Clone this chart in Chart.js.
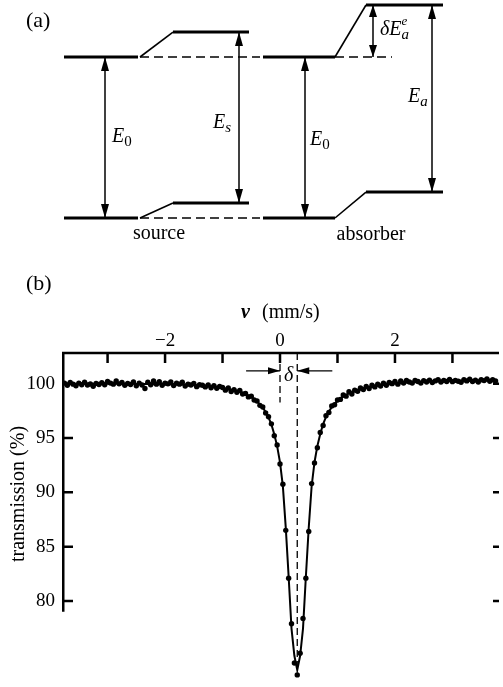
<!DOCTYPE html>
<html><head><meta charset="utf-8">
<script src="https://cdn.jsdelivr.net/npm/chart.js@4.4.1/dist/chart.umd.min.js"></script>
<style>
html,body{margin:0;padding:0;background:#fff;width:503px;height:687px;overflow:hidden}
#wa{position:absolute;left:0;top:0;width:503px;height:250px}
#wb{position:absolute;left:0;top:250px;width:503px;height:437px}
</style></head>
<body>
<div id="wa"><canvas id="ca"></canvas></div>
<div id="wb"><canvas id="cb"></canvas></div>
<script>
// ---------- (a) energy-level scheme (arbitrary energy units, E0 = 10) ----------
const groundEnergy = 0;
const transitionEnergy = 10;                 // E0
const sourceLevels = [0.93, 11.55];          // shifted source ground / excited
const absorberLevels = [1.61, 13.23];        // shifted absorber ground / excited
const sourceColumns = [64, 138, 173, 249];   // schematic x: unshifted from/to, shifted from/to
const absorberColumns = [263, 335, 366, 443];
const arrowColumns = [105, 239, 305, 373, 432]; // E0(src), Es, E0(abs), dE, Ea

// ---------- (b) Mossbauer spectrum ----------
const velocity = [
-3.75,-3.70,-3.65,-3.60,-3.55,-3.50,-3.45,-3.40,-3.35,-3.30,
-3.25,-3.20,-3.15,-3.10,-3.05,-3.00,-2.95,-2.90,-2.85,-2.80,
-2.75,-2.70,-2.65,-2.60,-2.55,-2.50,-2.45,-2.40,-2.35,-2.30,
-2.25,-2.20,-2.15,-2.10,-2.05,-2.00,-1.95,-1.90,-1.85,-1.80,
-1.75,-1.70,-1.65,-1.60,-1.55,-1.50,-1.45,-1.40,-1.35,-1.30,
-1.25,-1.20,-1.15,-1.10,-1.05,-1.00,-0.95,-0.90,-0.85,-0.80,
-0.75,-0.70,-0.65,-0.60,-0.55,-0.50,-0.45,-0.40,-0.35,-0.30,
-0.25,-0.20,-0.15,-0.10,-0.05,0.00,0.05,0.10,0.15,0.20,
0.25,0.30,0.35,0.40,0.45,0.50,0.55,0.60,0.65,0.70,
0.75,0.80,0.85,0.90,0.95,1.00,1.05,1.10,1.15,1.20,
1.25,1.30,1.35,1.40,1.45,1.50,1.55,1.60,1.65,1.70,
1.75,1.80,1.85,1.90,1.95,2.00,2.05,2.10,2.15,2.20,
2.25,2.30,2.35,2.40,2.45,2.50,2.55,2.60,2.65,2.70,
2.75,2.80,2.85,2.90,2.95,3.00,3.05,3.10,3.15,3.20,
3.25,3.30,3.35,3.40,3.45,3.50,3.55,3.60,3.65,3.70,
3.75];
const transmission = [
100.05,99.85,100.10,99.95,99.80,100.05,99.90,100.12,99.88,99.97,
99.75,100.02,99.92,100.08,99.90,100.20,100.05,99.95,100.25,99.98,
100.10,99.85,100.02,99.92,100.15,99.80,100.05,99.88,99.55,100.12,
99.90,100.25,99.95,100.18,99.85,100.05,99.98,100.15,99.82,100.05,
99.95,100.12,99.78,99.95,99.88,100.02,99.72,99.90,99.85,99.70,
99.88,99.62,99.80,99.58,99.75,99.65,99.40,99.60,99.28,99.45,
99.20,99.38,99.05,99.10,98.78,98.85,98.50,98.40,98.00,97.85,
97.30,96.95,96.30,95.20,94.35,92.60,90.75,86.50,82.10,77.90,
74.30,73.20,75.20,78.40,82.10,86.40,90.80,92.70,94.10,95.50,
96.15,97.05,97.35,97.95,98.05,98.50,98.55,98.95,98.85,99.25,
99.05,99.40,99.30,99.60,99.45,99.75,99.55,99.85,99.70,99.95,
99.78,100.05,99.85,100.10,100.00,100.20,99.95,100.25,100.05,100.30,
100.15,100.05,100.30,100.20,100.05,100.28,100.15,100.32,100.10,100.25,
100.35,100.15,100.30,100.20,100.38,100.18,100.30,100.22,100.12,100.35,
100.25,100.40,100.20,100.32,100.15,100.35,100.28,100.42,100.22,100.35,
100.25];
const fitCurve = [
100.01,100.01,100.00,100.00,100.00,100.00,100.00,100.00,100.00,100.00,
100.00,100.00,100.00,99.99,99.99,99.99,99.99,99.99,99.99,99.99,
99.98,99.98,99.98,99.98,99.98,99.97,99.97,99.97,99.96,99.96,
99.95,99.96,99.95,99.95,99.94,99.93,99.93,99.92,99.91,99.91,
99.90,99.89,99.88,99.87,99.85,99.84,99.82,99.82,99.80,99.78,
99.76,99.73,99.70,99.67,99.63,99.60,99.56,99.51,99.45,99.39,
99.32,99.24,99.14,99.04,98.91,98.76,98.58,98.36,98.09,97.79,
97.39,96.90,96.25,95.35,94.25,92.75,90.55,86.75,82.25,77.46,
74.96,73.66,74.96,77.46,82.26,86.76,90.56,92.77,94.27,95.37,
96.28,96.93,97.43,97.83,98.13,98.41,98.63,98.81,98.97,99.10,
99.21,99.31,99.39,99.46,99.55,99.62,99.67,99.72,99.76,99.80,
99.84,99.88,99.91,99.94,99.97,100.00,100.02,100.04,100.06,100.08,
100.10,100.12,100.13,100.15,100.16,100.17,100.18,100.19,100.20,100.21,
100.22,100.22,100.23,100.24,100.24,100.25,100.25,100.26,100.26,100.27,
100.27,100.28,100.28,100.28,100.29,100.29,100.29,100.30,100.30,100.30,
100.30];
const isomerShift = 0.30;           // mm/s, centre of the absorption line
const xTickValues = [-3,-2,-1,0,1,2,3];
const xTickLabels = {'-2':'\u22122','0':'0','2':'2'};
const yTickValues = [80,85,90,95,100];

// ---------- shared helpers ----------
const FONT = "'Liberation Serif','Times New Roman',serif";
Chart.defaults.font.family = FONT;
Chart.defaults.color = '#000';

function drawParts(ctx, x, y, parts, align){
  let total = 0;
  parts.forEach(p => { ctx.font = p.font; p._w = ctx.measureText(p.text).width; if (p.adv !== false) total += p._w; });
  let cx = align === 'center' ? x - total/2 : x;
  ctx.textBaseline = 'middle'; ctx.textAlign = 'left'; ctx.fillStyle = '#000';
  parts.forEach(p => { ctx.font = p.font; ctx.fillText(p.text, cx, y + (p.dy||0)); if (p.adv !== false) cx += p._w; });
}

const arrowPlugin = {
  id: 'arrowHeads',
  afterDatasetsDraw(chart){
    const ctx = chart.ctx;
    chart.data.datasets.forEach((ds, i) => {
      if (!ds.arrow) return;
      const pts = chart.getDatasetMeta(i).data;
      const a = pts[0], b = pts[pts.length-1];
      const L = ds.headLength || 12, W = ds.headWidth || 3.8;
      const head = (tip, from) => {
        const ang = Math.atan2(tip.y - from.y, tip.x - from.x);
        const bx = tip.x - L*Math.cos(ang), by = tip.y - L*Math.sin(ang);
        ctx.beginPath();
        ctx.moveTo(tip.x, tip.y);
        ctx.lineTo(bx + W*Math.sin(ang), by - W*Math.cos(ang));
        ctx.lineTo(bx - W*Math.sin(ang), by + W*Math.cos(ang));
        ctx.closePath(); ctx.fill();
      };
      ctx.save(); ctx.fillStyle = '#000';
      if (ds.arrow === 'end' || ds.arrow === 'both') head(b, a);
      if (ds.arrow === 'start' || ds.arrow === 'both') head(a, b);
      ctx.restore();
    });
  }
};

// ---------- chart (a) ----------
function seg(x1, y1, x2, y2, width, extra){
  return Object.assign({data:[{x:x1,y:y1},{x:x2,y:y2}], showLine:true, pointRadius:0,
    borderColor:'#000', borderWidth:width, borderCapStyle:'butt'}, extra||{});
}
const [sU0, sU1, sS0, sS1] = sourceColumns;
const [aU0, aU1, aS0, aS1] = absorberColumns;
const dashA = {borderDash:[9,5], borderWidth:1.3};
const diagramSets = [
  // unshifted levels
  seg(sU0, transitionEnergy, sU1, transitionEnergy, 3),
  seg(sU0, groundEnergy, sU1, groundEnergy, 3),
  seg(aU0, transitionEnergy, aU1, transitionEnergy, 3),
  seg(aU0, groundEnergy, aU1, groundEnergy, 3),
  // shifted levels
  seg(sS0, sourceLevels[1], sS1, sourceLevels[1], 3),
  seg(sS0, sourceLevels[0], sS1, sourceLevels[0], 3),
  seg(aS0, absorberLevels[1], aS1, absorberLevels[1], 3),
  seg(aS0, absorberLevels[0], aS1, absorberLevels[0], 3),
  // connecting slants
  seg(sU1 + 2, transitionEnergy, sS0, sourceLevels[1], 1.6),
  seg(sU1 + 2, groundEnergy, sS0, sourceLevels[0], 1.6),
  seg(aU1, transitionEnergy, aS0, absorberLevels[1], 1.6),
  seg(aU1, groundEnergy, aS0, absorberLevels[0], 1.6),
  // dashed references
  seg(sU1 + 2, transitionEnergy, aU0 - 3, transitionEnergy, 1.3, dashA),
  seg(sU1 + 2, groundEnergy, aU0 - 3, groundEnergy, 1.3, dashA),
  seg(aU1, transitionEnergy, 392, transitionEnergy, 1.3, dashA),
  // double arrows
  seg(arrowColumns[0], groundEnergy, arrowColumns[0], transitionEnergy, 1.5, {arrow:'both', headLength:14, headWidth:4}),
  seg(arrowColumns[1], sourceLevels[0], arrowColumns[1], sourceLevels[1], 1.5, {arrow:'both', headLength:14, headWidth:4}),
  seg(arrowColumns[2], groundEnergy, arrowColumns[2], transitionEnergy, 1.5, {arrow:'both', headLength:14, headWidth:4}),
  seg(arrowColumns[3], transitionEnergy, arrowColumns[3], absorberLevels[1], 1.5, {arrow:'both', headLength:12, headWidth:4}),
  seg(arrowColumns[4], absorberLevels[0], arrowColumns[4], absorberLevels[1], 1.5, {arrow:'both', headLength:14, headWidth:4})
];

const EI = `italic 20px ${FONT}`, SUB = `15px ${FONT}`, SUBI = `italic 15px ${FONT}`;
const diagramLabels = [
  {x:26, y:12.24, align:'left', parts:[{text:'(a)', font:`22px ${FONT}`}]},
  {x:112, y:5.03, align:'left', parts:[{text:'E', font:EI},{text:'0', font:SUB, dy:5}]},
  {x:213, y:5.90, align:'left', parts:[{text:'E', font:EI},{text:'s', font:SUBI, dy:5}]},
  {x:310, y:4.84, align:'left', parts:[{text:'E', font:EI},{text:'0', font:SUB, dy:5}]},
  {x:408, y:7.52, align:'left', parts:[{text:'E', font:EI},{text:'a', font:SUBI, dy:5}]},
  {x:380, y:11.68, align:'left', parts:[{text:'\u03b4', font:EI},{text:'E', font:EI},{text:'a', font:SUBI, dy:5, adv:false},{text:'e', font:`italic 13px ${FONT}`, dy:-8}]},
  {x:159, y:-0.99, align:'center', parts:[{text:'source', font:`20px ${FONT}`}]},
  {x:371, y:-1.06, align:'center', parts:[{text:'absorber', font:`20px ${FONT}`}]}
];
const diagramTextPlugin = {
  id:'diagramText',
  afterDraw(chart){
    const ctx = chart.ctx, sx = chart.scales.x, sy = chart.scales.y;
    ctx.save();
    diagramLabels.forEach(l => drawParts(ctx, sx.getPixelForValue(l.x), sy.getPixelForValue(l.y), l.parts, l.align));
    ctx.restore();
  }
};

new Chart(document.getElementById('ca'), {
  type:'scatter',
  data:{datasets: diagramSets},
  options:{
    responsive:true, maintainAspectRatio:false, animation:false,
    layout:{padding:0},
    plugins:{legend:{display:false}, tooltip:{enabled:false}},
    scales:{
      x:{type:'linear', min:0, max:503, display:false},
      y:{type:'linear', min:-1.9876, max:13.5404, display:false}
    }
  },
  plugins:[arrowPlugin, diagramTextPlugin]
});

// ---------- chart (b) ----------
const yTop = 102.818, yBottom = 72.455, yAxisEnd = 79.0;
const axesPlugin = {
  id:'inwardAxes',
  afterDraw(chart){
    const ctx = chart.ctx, a = chart.chartArea, sx = chart.scales.x, sy = chart.scales.y;
    ctx.save();
    ctx.strokeStyle = '#000'; ctx.lineWidth = 2.5; ctx.lineCap = 'butt';
    ctx.beginPath();
    ctx.moveTo(a.left, a.top); ctx.lineTo(a.right, a.top);
    ctx.moveTo(a.left + 1.25, a.top); ctx.lineTo(a.left + 1.25, sy.getPixelForValue(yAxisEnd));
    xTickValues.forEach(v => { const px = sx.getPixelForValue(v); ctx.moveTo(px, a.top); ctx.lineTo(px, a.top + 10); });
    yTickValues.forEach(v => { const py = sy.getPixelForValue(v);
      ctx.moveTo(a.left, py); ctx.lineTo(a.left + 11, py);
      ctx.moveTo(a.right, py); ctx.lineTo(a.right - 6, py); });
    ctx.stroke();
    // titles and annotation text
    drawParts(ctx, 26, 34, [{text:'(b)', font:`22px ${FONT}`}], 'left');
    drawParts(ctx, 241, 63, [{text:'v', font:`bold italic 20px ${FONT}`}], 'left');
    drawParts(ctx, 262, 63, [{text:'(mm/s)', font:`20px ${FONT}`}], 'left');
    drawParts(ctx, sx.getPixelForValue(0.15), sy.getPixelForValue(100.73), [{text:'\u03b4', font:`italic 20px ${FONT}`}], 'center');
    ctx.translate(19, 244); ctx.rotate(-Math.PI/2);
    ctx.font = `20px ${FONT}`; ctx.textAlign = 'center'; ctx.textBaseline = 'middle'; ctx.fillStyle = '#000';
    ctx.fillText('transmission (%)', 0, 0);
    ctx.restore();
  }
};

new Chart(document.getElementById('cb'), {
  type:'scatter',
  data:{datasets:[
    {label:'Lorentzian fit', data: velocity.map((v,i)=>({x:v, y:fitCurve[i]})), showLine:true, pointRadius:0,
     borderColor:'#000', borderWidth:2, tension:0},
    {label:'measured', data: velocity.map((v,i)=>({x:v, y:transmission[i]})), showLine:false,
     pointRadius:2.7, pointBackgroundColor:'#000', pointBorderWidth:0, pointBorderColor:'#000'},
    {label:'v = 0', data:[{x:0, y:yTop},{x:0, y:98.27}], showLine:true, pointRadius:0,
     borderColor:'#000', borderWidth:1.3, borderDash:[7,4]},
    {label:'line centre', data:[{x:isomerShift, y:yTop},{x:isomerShift, y:73.5}], showLine:true, pointRadius:0,
     borderColor:'#000', borderWidth:1.3, borderDash:[7,4]},
    {label:'delta arrow left', data:[{x:-0.59, y:101.18},{x:0, y:101.18}], showLine:true, pointRadius:0,
     borderColor:'#000', borderWidth:1.3, arrow:'end', headLength:12, headWidth:3.5},
    {label:'delta arrow right', data:[{x:0.91, y:101.18},{x:isomerShift, y:101.18}], showLine:true, pointRadius:0,
     borderColor:'#000', borderWidth:1.3, arrow:'end', headLength:12, headWidth:3.5}
  ]},
  options:{
    responsive:true, maintainAspectRatio:false, animation:false,
    layout:{padding:0},
    plugins:{legend:{display:false}, tooltip:{enabled:false}},
    scales:{
      x:{type:'linear', position:'top', min:-3.793, max:3.810,
         afterBuildTicks: s => { s.ticks = xTickValues.map(v => ({value:v})); },
         afterFit: s => { s.height = 103; s.paddingLeft = 0; s.paddingRight = 0; s.paddingTop = 0; s.paddingBottom = 0; },
         grid:{display:false, drawTicks:false}, border:{display:false},
         ticks:{autoSkip:false, maxRotation:0, padding:1, color:'#000', font:{size:19, family:FONT},
                callback: v => xTickLabels[String(v)] || ''}},
      y:{type:'linear', min:yBottom, max:yTop,
         afterBuildTicks: s => { s.ticks = yTickValues.map(v => ({value:v})); },
         afterFit: s => { s.width = 62; s.paddingTop = 0; s.paddingBottom = 0; s.paddingLeft = 0; s.paddingRight = 0; },
         grid:{display:false, drawTicks:false}, border:{display:false},
         ticks:{autoSkip:false, padding:7, color:'#000', font:{size:19, family:FONT}}}
    }
  },
  plugins:[arrowPlugin, axesPlugin]
});
</script>
</body></html>
